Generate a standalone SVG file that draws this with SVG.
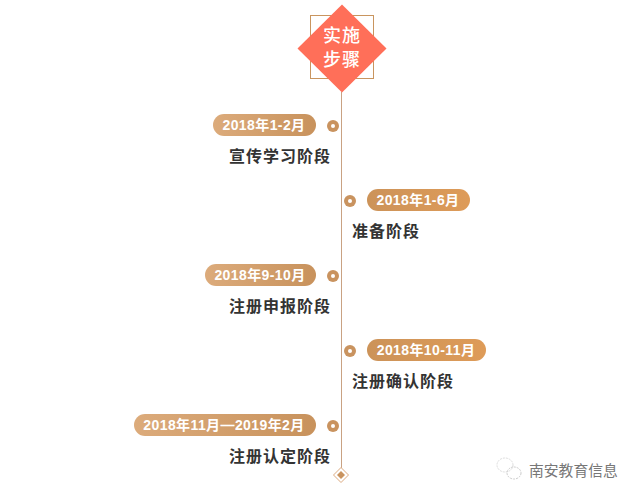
<svg xmlns="http://www.w3.org/2000/svg" width="639" height="498" viewBox="0 0 639 498">
<style>
.pill{fill:url(#g)}
.pr{fill:url(#g2)}
.date{font:bold 14px "Liberation Sans","Noto Sans CJK SC",sans-serif;fill:#fff;text-anchor:middle;letter-spacing:.4px}
.lab{font:bold 16px "Noto Sans CJK SC",sans-serif;fill:#333;letter-spacing:1px}
.ttl{font:500 18px "Noto Sans CJK SC",sans-serif;fill:#fff;text-anchor:middle;letter-spacing:1px}
.dot{fill:#c9935f}
.hole{fill:#fff}
</style>
<defs>
<linearGradient id="g" x1="0" x2="1" y1="0" y2="0"><stop offset="0" stop-color="#dcab7b"/><stop offset="1" stop-color="#c8925c"/></linearGradient>
<linearGradient id="g2" x1="0" x2="1" y1="0" y2="0"><stop offset="0" stop-color="#cc9359"/><stop offset="1" stop-color="#de9b58"/></linearGradient>
</defs>
<rect width="639" height="498" fill="#fff"/>
<g id="connectors"><line x1="341.500" y1="92" x2="341.500" y2="468" stroke="#c9a283" stroke-width="1"/></g>
<g id="title">
<rect x="310.500" y="15.500" width="63" height="63" fill="none" stroke="#c9955f" stroke-width="1"/>
<polygon points="342,4.500 386.500,48.500 342,92.500 297.500,48.500" fill="#ff6f59"/>
<text class="ttl" x="342" y="42">实施</text>
<text class="ttl" x="342" y="66">步骤</text>
</g>
<g id="n1"><rect class="pill" x="213" y="114" width="103" height="22" rx="11"/><text class="date" x="264" y="130">2018年1-2月</text><circle class="dot" cx="333" cy="126" r="6"/><circle class="hole" cx="333" cy="126" r="2"/><text class="lab" x="229" y="162">宣传学习阶段</text></g>
<g id="n2"><rect class="pr" x="367" y="189" width="103" height="22" rx="11"/><text class="date" x="418" y="205">2018年1-6月</text><circle class="dot" cx="350" cy="201" r="6"/><circle class="hole" cx="350" cy="201" r="2"/><text class="lab" x="352" y="237">准备阶段</text></g>
<g id="n3"><rect class="pill" x="205" y="264" width="111" height="22" rx="11"/><text class="date" x="260" y="280">2018年9-10月</text><circle class="dot" cx="333" cy="276" r="6"/><circle class="hole" cx="333" cy="276" r="2"/><text class="lab" x="229" y="312">注册申报阶段</text></g>
<g id="n4"><rect class="pr" x="367" y="339" width="119" height="22" rx="11"/><text class="date" x="426" y="355">2018年10-11月</text><circle class="dot" cx="350" cy="351" r="6"/><circle class="hole" cx="350" cy="351" r="2"/><text class="lab" x="352" y="387">注册确认阶段</text></g>
<g id="n5"><rect class="pill" x="134" y="414" width="182" height="22" rx="11"/><text class="date" x="224" y="430">2018年11月—2019年2月</text><circle class="dot" cx="333" cy="426" r="6"/><circle class="hole" cx="333" cy="426" r="2"/><text class="lab" x="229" y="462">注册认定阶段</text></g>
<g id="end"><polygon points="341,467.500 348.500,475 341,482.500 333.500,475" fill="#fff" stroke="#dcaa80" stroke-width="1"/><polygon points="341,471 345,475 341,479 337,475" fill="#c9935f"/></g>
<g id="watermark">
<ellipse cx="505" cy="465" rx="8" ry="7" fill="none" stroke="#ddd" stroke-width="1" stroke-dasharray="2 1"/>
<ellipse cx="514" cy="473" rx="7" ry="6" fill="none" stroke="#ccc" stroke-width="1" stroke-dasharray="2 1"/>
<text x="529" y="476" style="font:14.800px 'Noto Sans CJK SC',sans-serif;fill:#777">南安教育信息</text>
</g>
</svg>
